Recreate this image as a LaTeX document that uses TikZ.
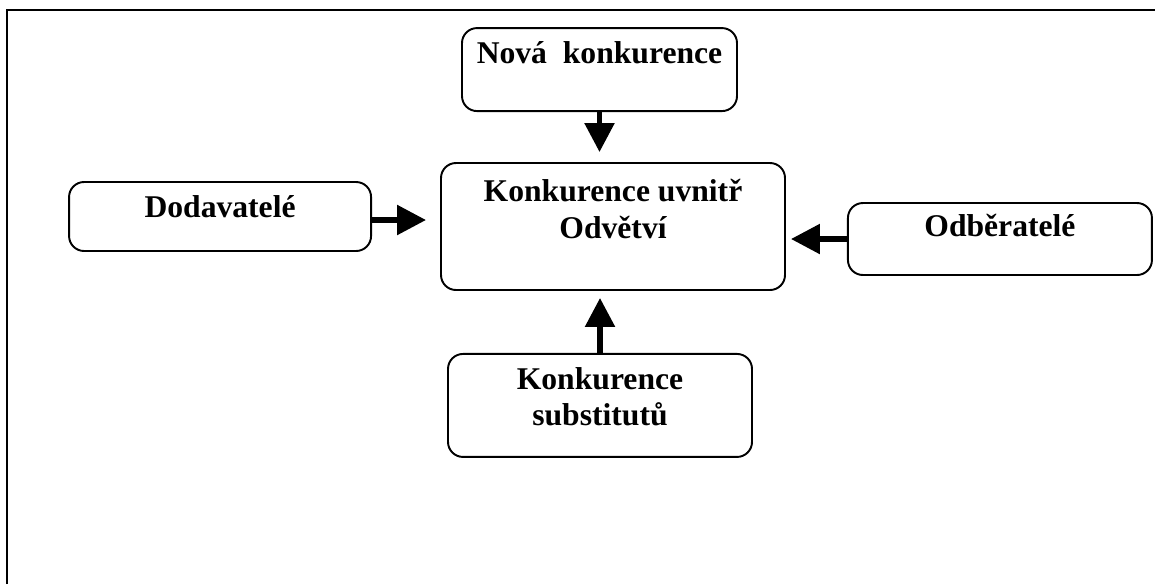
\documentclass[tikz,border=0pt]{standalone}
\usepackage{fontspec}
\setmainfont{Liberation Serif}
\usetikzlibrary{positioning,arrows.meta}

\begin{document}
\begin{tikzpicture}[
    box/.style={draw, line width=1.1pt, rounded corners=0.3cm, align=center, inner xsep=0pt, inner ysep=0pt, font=\bfseries\fontsize{18}{21}\selectfont},
    arrow/.style={-{Triangle[length=0.58cm, width=0.58cm]}, line width=0.11cm}]
\useasboundingbox (0,0) rectangle (23.1,-11.68);
\draw[line width=1.2pt] (0.14,-11.68) -- (0.14,-0.2) -- (23.1,-0.2);
\node[box, minimum width=6.88cm, text height=1.5cm, text depth=1.04cm] (ctr) at (12.26,-4.53) {Konkurence uvnitř\\Odvětví};
\node[box, minimum width=5.5cm, text height=0.70cm, text depth=0.96cm, above=1.0cm of ctr, xshift=-0.27cm] (nova) {Nová\ \ konkurence};
\node[box, minimum width=6.04cm, text height=0.70cm, text depth=0.68cm, left=1.36cm of ctr, yshift=0.2cm] (dod) {Dodavatelé};
\node[box, minimum width=6.08cm, text height=0.67cm, text depth=0.77cm, right=1.22cm of ctr, yshift=-0.25cm] (odb) {Odběratelé};
\node[box, minimum width=6.08cm, text height=1.44cm, text depth=0.62cm, below=1.24cm of ctr, xshift=-0.26cm] (sub) {Konkurence\\substitutů};
\draw[arrow, shorten >=0.2cm] (nova) -- (nova |- ctr.north);
\draw[arrow, shorten >=0.28cm] ([yshift=-0.07cm]dod.east) -- ([yshift=-0.07cm]dod.east -| ctr.west);
\draw[arrow, shorten >=0.1cm] (odb) -- (odb -| ctr.east);
\draw[arrow, shorten >=0.14cm] (sub) -- (sub |- ctr.south);
\end{tikzpicture}
\end{document}
